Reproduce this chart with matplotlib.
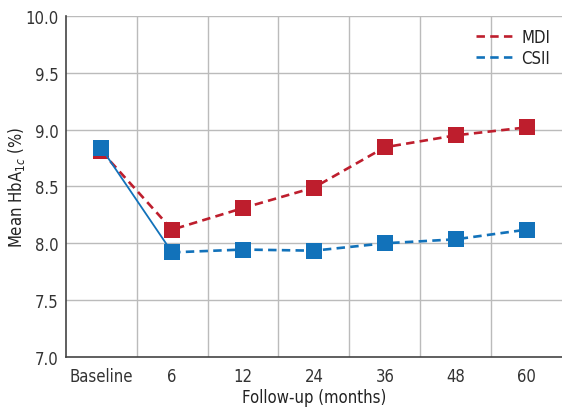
import matplotlib
matplotlib.use("Agg")
import matplotlib.pyplot as plt

# données
categories = ["Baseline", "6", "12", "24", "36", "48", "60"]
mdi = [8.81, 8.12, 8.31, 8.49, 8.845, 8.95, 9.02]
csii = [8.84, 7.92, 7.945, 7.935, 8.00, 8.035, 8.12]
y_ticks = [7.0, 7.5, 8.0, 8.5, 9.0, 9.5, 10.0]

red = "#BE1E2D"
blue = "#1272BA"
txt = "#333333"

plt.rcParams["font.family"] = ["DejaVu Sans"]
plt.rcParams["font.stretch"] = "condensed"

fig = plt.figure(figsize=(5.62, 4.10), dpi=100)
ax = fig.add_axes([0.117, 0.127, 0.883, 0.8315])

x = list(range(len(categories)))

# grille
for v in y_ticks[1:]:
    ax.axhline(v, color="#bbbbbb", lw=1, zorder=0)
for i in range(len(categories) - 1):
    ax.axvline(i + 0.5, color="#bbbbbb", lw=1, zorder=0)

# MDI
ax.plot(x, mdi, color=red, lw=1.9, ls=(0, (3.2, 2)), zorder=3)
ax.plot(x, mdi, color=red, ls="none", marker="s", ms=12,
        markeredgewidth=0, zorder=3)
# CSII : premier segment plein, le reste en tirets
ax.plot(x[:2], csii[:2], color=blue, lw=1.3, ls="-", zorder=4)
ax.plot(x[1:], csii[1:], color=blue, lw=1.9, ls=(0, (3.2, 2)), zorder=4)
ax.plot(x, csii, color=blue, ls="none", marker="s", ms=12,
        markeredgewidth=0, zorder=5)

# légende sans marqueurs
ax.plot([], [], color=red, lw=1.9, ls=(0, (3.2, 2)), label="MDI")
ax.plot([], [], color=blue, lw=1.9, ls=(0, (3.2, 2)), label="CSII")

ax.set_xlim(-0.5, len(categories) - 0.5)
ax.set_ylim(7.0, 10.0)
ax.set_yticks(y_ticks)
ax.set_yticklabels([f"{v:.1f}" for v in y_ticks])
ax.set_xticks(x)
ax.set_xticklabels(categories)
ax.tick_params(length=0, labelsize=12, colors=txt)
ax.tick_params(axis="y", pad=5)
ax.tick_params(axis="x", pad=7)

for s in ["top", "right"]:
    ax.spines[s].set_visible(False)
for s in ["left", "bottom"]:
    ax.spines[s].set_color("#444444")
    ax.spines[s].set_linewidth(1.2)

ax.set_xlabel("Follow-up (months)", fontsize=12, color="#222222")
ax.xaxis.set_label_coords(0.5, -0.09)
ax.set_ylabel("Mean HbA$_{1c}$ (%)", fontsize=12, color="#222222")
ax.yaxis.set_label_coords(-0.078, 0.5)

leg = ax.legend(loc="upper right", frameon=False, fontsize=12,
                handlelength=2.2, handletextpad=0.5, labelspacing=0.2,
                borderaxespad=0.3)
for t in leg.get_texts():
    t.set_color("#222222")

fig.savefig("out.png", dpi=100)
